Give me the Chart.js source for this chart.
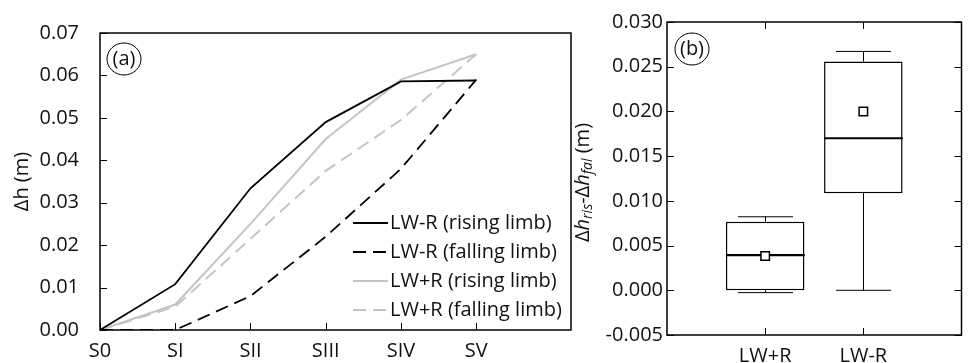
<!DOCTYPE html>
<html>
<head>
<meta charset="utf-8">
<script src="https://cdn.jsdelivr.net/npm/chart.js@4.4.1/dist/chart.umd.min.js"></script>
<style>
  html, body { margin: 0; padding: 0; background: #fff; }
  #wrap { position: relative; width: 969px; height: 363px; overflow: hidden; }
  .panel { position: absolute; top: 0; height: 363px; }
  #left { left: 0; width: 575px; }
  #right { left: 560px; width: 409px; }
</style>
</head>
<body>
<div id="wrap">
  <div class="panel" id="left"><canvas id="chartA"></canvas></div>
  <div class="panel" id="right"><canvas id="chartB"></canvas></div>
</div>
<script>
// panel (a): water level rise per stage
const stages = ['S0', 'SI', 'SII', 'SIII', 'SIV', 'SV'];
const lwrRising = [0, 0.0108, 0.0334, 0.0490, 0.0586, 0.0588];
const lwrFalling = [0, 0, 0.0080, 0.0220, 0.0380, 0.0590];
const lwpRising = [0, 0.0060, 0.0250, 0.0450, 0.0590, 0.0650];
const lwpFalling = [0, 0.0055, 0.0215, 0.0375, 0.0495, 0.0650];
const dhTicks = [0, 0.01, 0.02, 0.03, 0.04, 0.05, 0.06, 0.07];

// panel (b): rising minus falling, box stats
const groups = ['LW+R', 'LW-R'];
const boxMin = [-0.00026, 0.0];
const boxQ1 = [0.0, 0.01086];
const boxMedian = [0.00394, 0.0170];
const boxQ3 = [0.00767, 0.02559];
const boxMax = [0.00822, 0.02671];
const boxMean = [0.00383, 0.0200];
const diffTicks = [-0.005, 0, 0.005, 0.010, 0.015, 0.020, 0.025, 0.030];

const FONT = "'Open Sans', sans-serif";
Chart.defaults.font.family = FONT;
Chart.defaults.font.size = 20;
Chart.defaults.color = '#111';
Chart.defaults.animation = false;

// frame + ticks pointing into the plot
const inwardTicks = {
    id: 'inwardTicks',
    afterDraw(chart, args, opts) {
        const { ctx, chartArea: a, scales } = chart;
        const len = 7;
        ctx.save();
        ctx.strokeStyle = '#000';
        ctx.lineWidth = 1;
        ctx.beginPath();
        scales.x.ticks.forEach((t, i) => {
            const px = Math.round(scales.x.getPixelForTick(i)) + 0.5;
            ctx.moveTo(px, a.bottom); ctx.lineTo(px, a.bottom - len);
            if (opts.mirror) { ctx.moveTo(px, a.top); ctx.lineTo(px, a.top + len); }
        });
        scales.y.ticks.forEach((t, i) => {
            const py = Math.round(scales.y.getPixelForTick(i)) + 0.5;
            ctx.moveTo(a.left, py); ctx.lineTo(a.left + len, py);
            if (opts.mirror) { ctx.moveTo(a.right, py); ctx.lineTo(a.right - len, py); }
        });
        ctx.stroke();
        ctx.lineWidth = 1.5;
        ctx.strokeRect(a.left, a.top, a.right - a.left, a.bottom - a.top);
        ctx.restore();
    }
};

// circled (a) / (b)
const panelTag = {
    id: 'panelTag',
    afterDraw(chart, args, opts) {
        const { ctx, chartArea: a } = chart;
        const cx = a.left + opts.dx, cy = a.top + opts.dy;
        ctx.save();
        ctx.beginPath();
        ctx.ellipse(cx, cy, 17, 16, 0, 0, Math.PI * 2);
        ctx.lineWidth = 1;
        ctx.strokeStyle = '#000';
        ctx.stroke();
        ctx.fillStyle = '#111';
        ctx.font = `20px ${FONT}`;
        ctx.textAlign = 'center';
        ctx.textBaseline = 'middle';
        ctx.fillText(opts.text, cx, cy);
        ctx.restore();
    }
};

// legend sitting inside the lower right of panel (a)
const insideLegend = {
    id: 'insideLegend',
    afterDraw(chart) {
        const { ctx, chartArea: a } = chart;
        const ds = chart.data.datasets;
        ctx.save();
        ctx.font = `20px ${FONT}`;
        ctx.textBaseline = 'middle';
        ctx.textAlign = 'left';
        ds.forEach((d, i) => {
            const y = a.bottom - 20 - (ds.length - 1 - i) * 29;
            const x0 = a.right - 218;
            ctx.beginPath();
            ctx.setLineDash(d.borderDash || []);
            ctx.strokeStyle = d.borderColor;
            ctx.lineWidth = d.borderWidth;
            ctx.moveTo(x0, y); ctx.lineTo(x0 + 35, y);
            ctx.stroke();
            ctx.setLineDash([]);
            ctx.fillStyle = '#111';
            ctx.fillText(d.label, x0 + 37, y);
        });
        ctx.restore();
    }
};

// y title of panel (b) with italic subscripts
const diffTitle = {
    id: 'diffTitle',
    afterDraw(chart) {
        const { ctx, chartArea: a } = chart;
        const parts = [
            { t: 'Δ' }, { t: 'h', it: 1 }, { t: 'ris', it: 1, sub: 1 }, { t: '-' },
            { t: 'Δ' }, { t: 'h', it: 1 }, { t: 'fal', it: 1, sub: 1 }, { t: ' (m)' }
        ];
        const fontOf = p => `${p.it ? 'italic ' : ''}${p.sub ? 14 : 20}px ${FONT}`;
        ctx.save();
        let w = 0;
        parts.forEach(p => { ctx.font = fontOf(p); p.w = ctx.measureText(p.t).width; w += p.w; });
        ctx.translate(23, (a.top + a.bottom) / 2 + 4);
        ctx.rotate(-Math.PI / 2);
        ctx.fillStyle = '#111';
        ctx.textBaseline = 'middle';
        ctx.textAlign = 'left';
        let x = -w / 2;
        parts.forEach(p => {
            ctx.font = fontOf(p);
            ctx.fillText(p.t, x, p.sub ? 5 : 0);
            x += p.w;
        });
        ctx.restore();
    }
};

// whiskers, caps and medians on top of the floating bars
const boxParts = {
    id: 'boxParts',
    afterDatasetDraw(chart, args) {
        if (args.index !== 0) return;
        const { ctx, scales: { x, y } } = chart;
        const bars = args.meta.data;
        ctx.save();
        ctx.strokeStyle = '#000';
        groups.forEach((g, i) => {
            const cx = Math.round(x.getPixelForValue(i + 1)) + 0.5;
            const half = bars[i].width / 2;
            const cap = half * 0.7;
            const yMax = y.getPixelForValue(boxMax[i]);
            const yMin = y.getPixelForValue(boxMin[i]);
            ctx.lineWidth = 1;
            ctx.beginPath();
            ctx.moveTo(cx, y.getPixelForValue(boxQ3[i])); ctx.lineTo(cx, yMax);
            ctx.moveTo(cx, y.getPixelForValue(boxQ1[i])); ctx.lineTo(cx, yMin);
            ctx.moveTo(cx - cap, yMax); ctx.lineTo(cx + cap, yMax);
            ctx.moveTo(cx - cap, yMin); ctx.lineTo(cx + cap, yMin);
            ctx.stroke();
            const yMed = y.getPixelForValue(boxMedian[i]);
            ctx.lineWidth = 2.2;
            ctx.beginPath();
            ctx.moveTo(cx - half, yMed); ctx.lineTo(cx + half, yMed);
            ctx.stroke();
        });
        ctx.restore();
    }
};

const xy = arr => arr.map((v, i) => ({ x: i, y: v }));

new Chart(document.getElementById('chartA'), {
    type: 'line',
    data: {
        datasets: [
            { label: 'LW-R (rising limb)', data: xy(lwrRising), borderColor: '#000', borderWidth: 1.8 },
            { label: 'LW-R (falling limb)', data: xy(lwrFalling), borderColor: '#000', borderWidth: 1.8, borderDash: [13, 7] },
            { label: 'LW+R (rising limb)', data: xy(lwpRising), borderColor: '#c4c4c4', borderWidth: 2 },
            { label: 'LW+R (falling limb)', data: xy(lwpFalling), borderColor: '#c4c4c4', borderWidth: 2, borderDash: [13, 7] }
        ]
    },
    options: {
        responsive: true,
        maintainAspectRatio: false,
        layout: { padding: { left: 0, right: 4, top: 22, bottom: 0 } },
        elements: { point: { radius: 0 }, line: { tension: 0 } },
        plugins: {
            legend: { display: false },
            tooltip: { enabled: false },
            panelTag: { text: '(a)', dx: 24, dy: 26 },
            inwardTicks: { mirror: false }
        },
        scales: {
            x: {
                type: 'linear',
                min: 0,
                max: 6.26,
                grid: { display: false, drawTicks: false },
                border: { display: false },
                afterBuildTicks: s => { s.ticks = stages.map((c, i) => ({ value: i })); },
                afterFit: s => { s.height = 29; },
                ticks: { padding: 9, maxRotation: 0, autoSkip: false, callback: v => stages[Math.round(v)] }
            },
            y: {
                min: 0,
                max: 0.07,
                grid: { display: false, drawTicks: false },
                border: { display: false },
                afterBuildTicks: s => { s.ticks = dhTicks.map(v => ({ value: v })); },
                afterFit: s => { s.width = 100; },
                ticks: { padding: 21, callback: v => v.toFixed(2) },
                title: { display: true, text: 'Δh (m)', padding: { top: 10, bottom: 0 } }
            }
        }
    },
    plugins: [inwardTicks, panelTag, insideLegend]
});

new Chart(document.getElementById('chartB'), {
    type: 'bar',
    data: {
        datasets: [
            {
                type: 'bar',
                order: 1,
                data: groups.map((g, i) => ({ x: i + 1, y: [boxQ1[i], boxQ3[i]] })),
                backgroundColor: '#fff',
                borderColor: '#000',
                borderWidth: 1.5,
                borderSkipped: false,
                categoryPercentage: 1,
                barPercentage: 0.8
            },
            {
                type: 'scatter',
                order: 0,
                data: groups.map((g, i) => ({ x: i + 1, y: boxMean[i] })),
                pointStyle: 'rect',
                pointRadius: 6,
                backgroundColor: '#fff',
                borderColor: '#000',
                borderWidth: 1.5
            }
        ]
    },
    options: {
        responsive: true,
        maintainAspectRatio: false,
        layout: { padding: { left: 0, right: 3, top: 22, bottom: 0 } },
        plugins: {
            legend: { display: false },
            tooltip: { enabled: false },
            panelTag: { text: '(b)', dx: 25, dy: 27 },
            inwardTicks: { mirror: true }
        },
        scales: {
            x: {
                type: 'linear',
                offset: false,
                min: 0,
                max: 3,
                grid: { display: false, drawTicks: false, offset: false },
                border: { display: false },
                afterBuildTicks: s => { s.ticks = groups.map((g, i) => ({ value: i + 1 })); },
                afterFit: s => { s.height = 28; },
                ticks: { padding: 9, maxRotation: 0, autoSkip: false, callback: v => groups[Math.round(v) - 1] }
            },
            y: {
                min: -0.005,
                max: 0.03,
                grid: { display: false, drawTicks: false },
                border: { display: false },
                afterBuildTicks: s => { s.ticks = diffTicks.map(v => ({ value: v })); },
                afterFit: s => { s.width = 107; },
                ticks: { padding: 4, callback: v => v.toFixed(3) }
            }
        }
    },
    plugins: [inwardTicks, panelTag, diffTitle, boxParts]
});
</script>
</body>
</html>
